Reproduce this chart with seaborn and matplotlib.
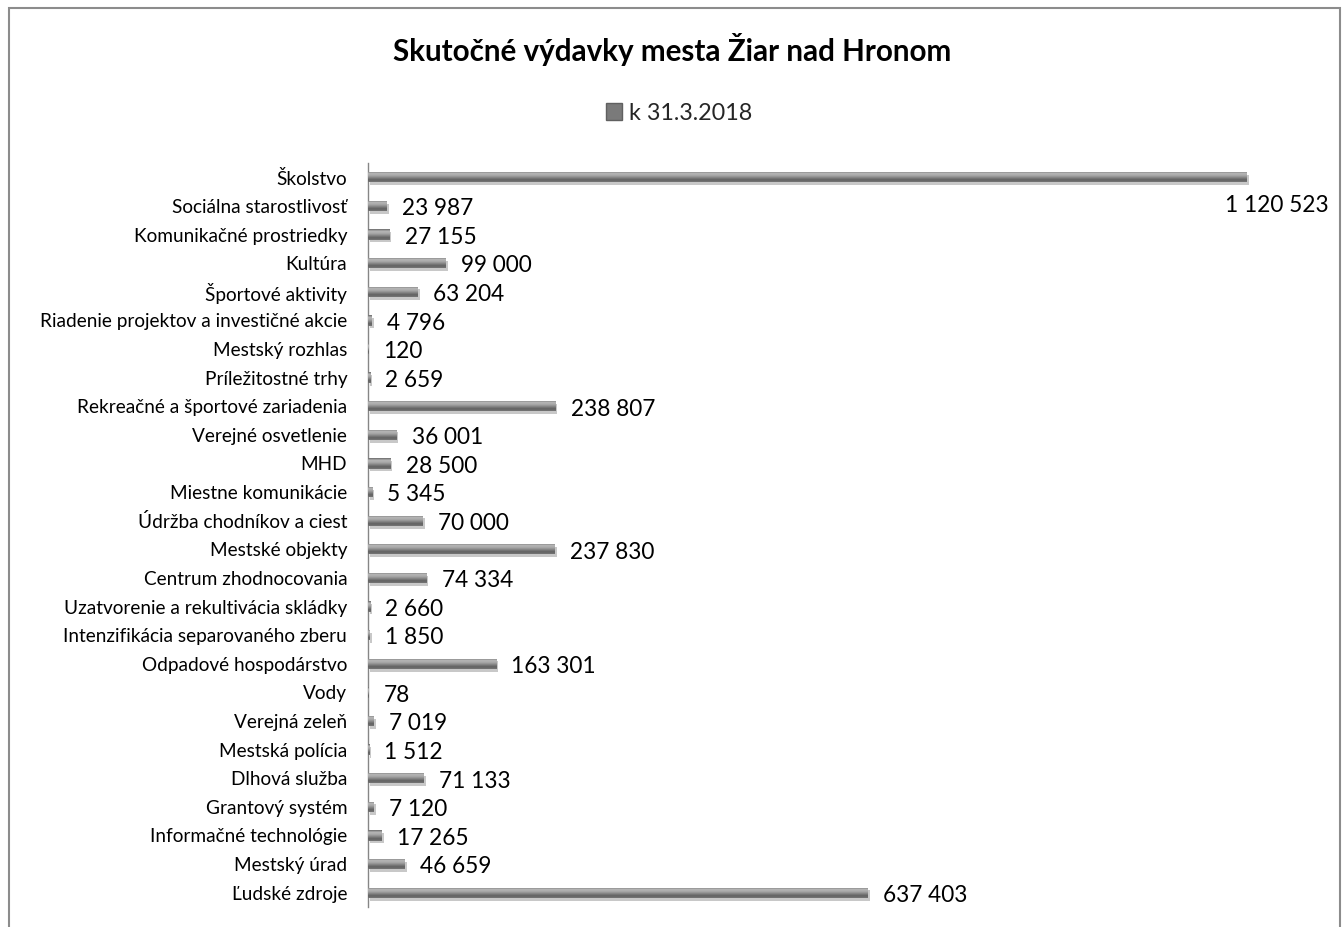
import numpy as np
import pandas as pd
import matplotlib
matplotlib.use("Agg")
import matplotlib.pyplot as plt
import seaborn as sns
from matplotlib.patches import Patch, Rectangle
import matplotlib.patheffects as pe

categories = [
    "Školstvo", "Sociálna starostlivosť", "Komunikačné prostriedky", "Kultúra",
    "Športové aktivity", "Riadenie projektov a investičné akcie", "Mestský rozhlas",
    "Príležitostné trhy", "Rekreačné a športové zariadenia", "Verejné osvetlenie",
    "MHD", "Miestne komunikácie", "Údržba chodníkov a ciest", "Mestské objekty",
    "Centrum zhodnocovania", "Uzatvorenie a rekultivácia skládky",
    "Intenzifikácia separovaného zberu", "Odpadové hospodárstvo", "Vody",
    "Verejná zeleň", "Mestská polícia", "Dlhová služba", "Grantový systém",
    "Informačné technológie", "Mestský úrad", "Ľudské zdroje",
]
values = [
    1120523, 23987, 27155, 99000, 63204, 4796, 120, 2659, 238807, 36001,
    28500, 5345, 70000, 237830, 74334, 2660, 1850, 163301, 78, 7019,
    1512, 71133, 7120, 17265, 46659, 637403,
]
series_name = "k 31.3.2018"
title = "Skutočné výdavky mesta Žiar nad Hronom"

df = pd.DataFrame({"kategoria": categories, "hodnota": values})

sns.set_theme(style="white")
plt.rcParams["font.family"] = ["Lato", "DejaVu Sans"]

fig = plt.figure(figsize=(13.42, 9.27), dpi=100)
W, H = 1342, 927
ax = fig.add_axes([368 / W, 1 - 907 / H, (1309 - 368) / W, (907 - 163) / H])

sns.barplot(data=df, y="kategoria", x="hodnota", orient="h", color="#7a7a7a",
            width=0.36, ax=ax, saturation=1)

# gradient fill clipped to each bar
grad_colors = np.array([
    [0.42, 0.42, 0.42], [0.72, 0.72, 0.72], [0.66, 0.66, 0.66],
    [0.52, 0.52, 0.52], [0.38, 0.38, 0.38], [0.46, 0.46, 0.46],
])
n = 40
pos = np.linspace(0, 1, len(grad_colors))
t = np.linspace(0, 1, n)
grad = np.stack([np.interp(t, pos, grad_colors[:, c]) for c in range(3)], axis=1)
grad_img = grad[:, None, :]

for p in ax.patches:
    p.set_edgecolor("none")
    p.set_path_effects([pe.SimplePatchShadow(offset=(1.5, -2), alpha=0.25), pe.Normal()])
    x0, y0, w, h = p.get_x(), p.get_y(), p.get_width(), p.get_height()
    if w <= 0:
        continue
    im = ax.imshow(grad_img, extent=(x0, x0 + w, y0 + h, y0), origin="upper",
                   aspect="auto", interpolation="bilinear", zorder=3)
    im.set_clip_path(p)

ax.set_xlim(0, 1200000)
ax.set_ylim(len(categories) - 0.5, -0.5)

# value labels
for i, v in enumerate(values):
    txt = f"{v:,}".replace(",", " ")
    if v == max(values):
        ax.annotate(txt, xy=(v, i), xytext=(59, -20), textcoords="offset points",
                    ha="right", va="center", fontsize=16.3, color="black")
    else:
        ax.annotate(txt, xy=(v, i), xytext=(11, -2), textcoords="offset points",
                    ha="left", va="center", fontsize=16.3, color="black")

ax.set_xlabel("")
ax.set_ylabel("")
ax.set_xticks([])
for s in ["top", "right", "bottom"]:
    ax.spines[s].set_visible(False)
ax.spines["left"].set_color("#868686")
ax.spines["left"].set_linewidth(1.0)
ax.tick_params(axis="y", length=0, pad=15, labelsize=13.7, labelcolor="black")

fig.text(672 / W, 1 - 50 / H, title, ha="center", va="center",
         fontsize=21.3, fontweight="bold", color="black")

handle = Patch(facecolor="#7a7a7a", edgecolor="#606060")
fig.legend([handle], [series_name], loc="center",
           bbox_to_anchor=(679 / W, 1 - 113 / H), frameon=False,
           fontsize=16.8, handlelength=0.7, handleheight=0.7, handletextpad=0.3)

frame = Rectangle((9 / W, -0.05), (1340 - 9) / W, 1.05 - 8 / H,
                  transform=fig.transFigure, fill=False, edgecolor="#8c8c8c",
                  linewidth=1.5)
fig.patches.append(frame)

fig.savefig("out.png", dpi=100)
